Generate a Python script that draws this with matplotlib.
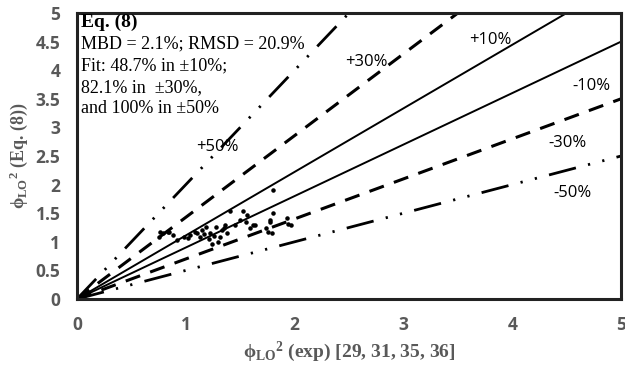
import numpy as np
import matplotlib.pyplot as plt

# ---- DATA ----
x_exp = [0.75, 0.79, 0.84, 0.76, 0.85, 0.92, 0.98, 1.04, 1.10, 1.13,
         1.15, 1.19, 1.24, 1.28, 1.30, 1.31, 1.36, 1.38, 1.41, 1.53,
         1.56, 1.55, 1.59, 1.62, 1.64, 1.74, 1.76, 1.77, 1.79, 1.77,
         1.80, 1.80, 1.93, 1.94, 1.97, 1.22, 1.33, 1.45, 1.50, 1.02,
         0.88, 1.08, 1.17, 1.26, 1.35, 1.21]
y_eq8 = [1.09, 1.15, 1.18, 1.18, 1.18, 1.03, 1.09, 1.12, 1.15, 1.09,
         1.21, 1.26, 0.96, 1.26, 1.00, 1.09, 1.29, 1.15, 1.53, 1.53,
         1.47, 1.35, 1.24, 1.29, 1.29, 1.24, 1.18, 1.35, 1.15, 1.38,
         1.51, 1.90, 1.41, 1.32, 1.29, 1.15, 1.20, 1.30, 1.38, 1.06,
         1.12, 1.18, 1.13, 1.10, 1.24, 1.05]

band_pct = [10, 30, 50]
band_labels = ["+10%", "-10%", "+30%", "-30%", "+50%", "-50%"]
label_pos = [(3.80, 4.53), (4.73, 3.72), (2.66, 4.14), (4.51, 2.73), (1.29, 2.66), (4.55, 1.85)]

info_lines = ["MBD = 2.1%; RMSD = 20.9%", "Fit: 48.7% in \u00b110%;",
              "82.1% in  \u00b130%,", "and 100% in \u00b150%"]

# ---- PLOT ----
plt.rcParams['mathtext.fontset'] = 'custom'
plt.rcParams['mathtext.rm'] = 'Liberation Serif:bold'
plt.rcParams['mathtext.it'] = 'Liberation Serif:bold'
plt.rcParams['mathtext.bf'] = 'Liberation Serif:bold'

fig = plt.figure(figsize=(6.25, 3.73), dpi=100)
ax = fig.add_axes([0.1232, 0.1984, 0.8704, 0.7666])

xx = np.array([0, 5.0])
styles = {10: dict(ls='-', lw=1.4),
          30: dict(ls=(0, (5, 3.5)), lw=2.2),
          50: dict(ls=(0, (10, 4.5, 0.8, 4.5, 0.8, 4.5)), lw=2.0)}
for p in band_pct:
    f = p / 100.0
    ax.plot(xx, xx / (1 - f), color='black', solid_capstyle='butt', **styles[p])
    ax.plot(xx, xx * (1 - f), color='black', solid_capstyle='butt', **styles[p])

ax.scatter(x_exp, y_eq8, s=5, color='black', zorder=3)

for lab, (lx, ly) in zip(band_labels, label_pos):
    ax.text(lx, ly, lab, ha='center', va='center', fontsize=12,
            family='Open Sans', color='black')

ax.text(0.04, 4.99, "Eq. (8)", ha='left', va='top', fontsize=14,
        family='Liberation Serif', fontweight='bold')
for i, line in enumerate(info_lines):
    ax.text(0.04, 4.6 - i * 0.375, line, ha='left', va='top', fontsize=13,
            family='Liberation Serif')

ax.set_xlim(0, 5)
ax.set_ylim(0, 5)
ax.set_xticks([0, 1, 2, 3, 4, 5])
ax.set_yticks(np.arange(0, 5.01, 0.5))
ax.set_xticklabels(['0', '1', '2', '3', '4', '5'])
ax.set_yticklabels(['0', '0.5', '1', '1.5', '2', '2.5', '3', '3.5', '4', '4.5', '5'])
ax.tick_params(length=0, pad=12, labelsize=12.5, labelcolor='#595959')
for t in ax.get_xticklabels() + ax.get_yticklabels():
    t.set_fontweight('bold')
    t.set_family('Open Sans')

for s in ax.spines.values():
    s.set_linewidth(2.2)
    s.set_color('#222222')

ax.set_xlabel(r"$\phi_{\mathrm{LO}}{}^{2}$ (exp) [29, 31, 35, 36]", fontsize=14,
              family='Liberation Serif', fontweight='bold', color='#595959', labelpad=4)
ax.set_ylabel(r"$\phi_{\mathrm{LO}}{}^{2}$ (Eq. (8))", fontsize=13,
              family='Liberation Serif', fontweight='bold', color='#595959', labelpad=4)

fig.savefig("out.png", dpi=100)
